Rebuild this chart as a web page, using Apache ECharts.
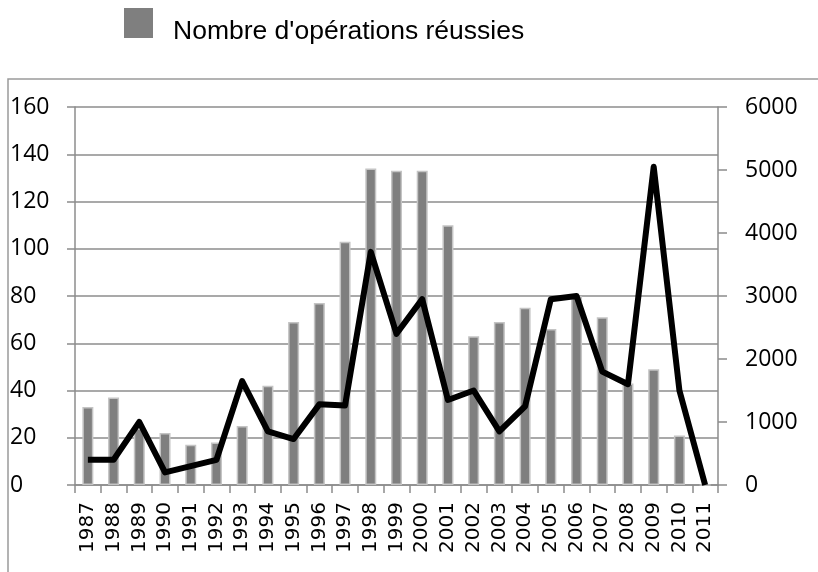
<!DOCTYPE html>
<html>
<head>
<meta charset="utf-8">
<script src="https://cdn.jsdelivr.net/npm/echarts@6/dist/echarts.min.js"></script>
<style>
  html, body { margin: 0; padding: 0; background: #fff; }
  #chart { width: 818px; height: 572px; }
</style>
</head>
<body>
<div id="chart"></div>
<script>
// années
const years = ['1987', '1988', '1989', '1990', '1991', '1992', '1993', '1994', '1995', '1996',
  '1997', '1998', '1999', '2000', '2001', '2002', '2003', '2004', '2005', '2006',
  '2007', '2008', '2009', '2010', '2011'];

// barres (axe gauche)
const operations = [33, 37, 24, 22, 17, 18, 25, 42, 69, 77,
  103, 134, 133, 133, 110, 63, 69, 75, 66, 80,
  71, 43, 49, 21, 0];

// courbe (axe droit)
const courbe = [400, 400, 1000, 200, 300, 400, 1650, 850, 730, 1280,
  1260, 3700, 2400, 2950, 1350, 1500, 850, 1250, 2950, 3000,
  1800, 1600, 5050, 1500, 0];

const leftTicks = { min: 0, max: 160, interval: 20 };
const rightTicks = { min: 0, max: 6000, interval: 1000 };

const chart = echarts.init(document.getElementById('chart'));

const grisAxe = '#8c8c8c';

const option = {
  backgroundColor: '#fff',
  animation: false,
  // cadre autour du graphique
  graphic: [
    {
      type: 'rect',
      shape: { x: 8, y: 79, width: 900, height: 600 },
      style: { fill: 'none', stroke: '#9a9a9a', lineWidth: 1.5 },
      silent: true
    }
  ],
  legend: {
    data: ["Nombre d'opérations réussies"],
    left: 119,
    top: 3,
    icon: 'rect',
    itemWidth: 29,
    itemHeight: 30,
    itemStyle: { borderWidth: 0 },
    formatter: name => '{t|' + name + '}',
    textStyle: {
      rich: {
        t: { fontSize: 26.5, fontFamily: 'Liberation Sans', color: '#000', padding: [18, 0, 0, 15] }
      }
    }
  },
  grid: { left: 75, right: 100, top: 107, bottom: 87 },
  xAxis: {
    type: 'category',
    data: years,
    boundaryGap: true,
    axisLine: { lineStyle: { color: grisAxe, width: 1.5 } },
    axisTick: { show: true, length: 8, alignWithLabel: false, lineStyle: { color: grisAxe, width: 1.5 } },
    axisLabel: {
      interval: 0,
      rotate: 90,
      margin: 17,
      color: '#000',
      fontSize: 20,
      fontFamily: 'DejaVu Sans'
    }
  },
  yAxis: [
    {
      type: 'value',
      position: 'left',
      min: leftTicks.min,
      max: leftTicks.max,
      interval: leftTicks.interval,
      axisLine: { show: true, lineStyle: { color: grisAxe, width: 1.5 } },
      axisTick: { show: true, length: 8, lineStyle: { color: grisAxe, width: 1.5 } },
      splitLine: { show: true, lineStyle: { color: grisAxe, width: 1.5 } },
      axisLabel: { color: '#000', fontSize: 23, fontFamily: 'Open Sans', margin: 65, align: 'left' }
    },
    {
      type: 'value',
      position: 'right',
      min: rightTicks.min,
      max: rightTicks.max,
      interval: rightTicks.interval,
      axisLine: { show: true, lineStyle: { color: grisAxe, width: 1.5 } },
      axisTick: { show: true, length: 9, lineStyle: { color: grisAxe, width: 1.5 } },
      splitLine: { show: false },
      axisLabel: {
        color: '#000', fontSize: 23, fontFamily: 'Open Sans', margin: 27,
        formatter: v => String(v)
      }
    }
  ],
  series: [
    {
      name: "Nombre d'opérations réussies",
      type: 'bar',
      yAxisIndex: 0,
      data: operations,
      barWidth: 11,
      itemStyle: { color: '#7f7f7f', borderColor: '#c4c4c4', borderWidth: 1.5 },
      z: 2
    },
    {
      name: 'Courbe',
      type: 'line',
      yAxisIndex: 1,
      data: courbe,
      showSymbol: false,
      symbol: 'none',
      lineStyle: { color: '#000', width: 6, join: 'round' },
      z: 3
    }
  ]
};

chart.setOption(option);
</script>
</body>
</html>
